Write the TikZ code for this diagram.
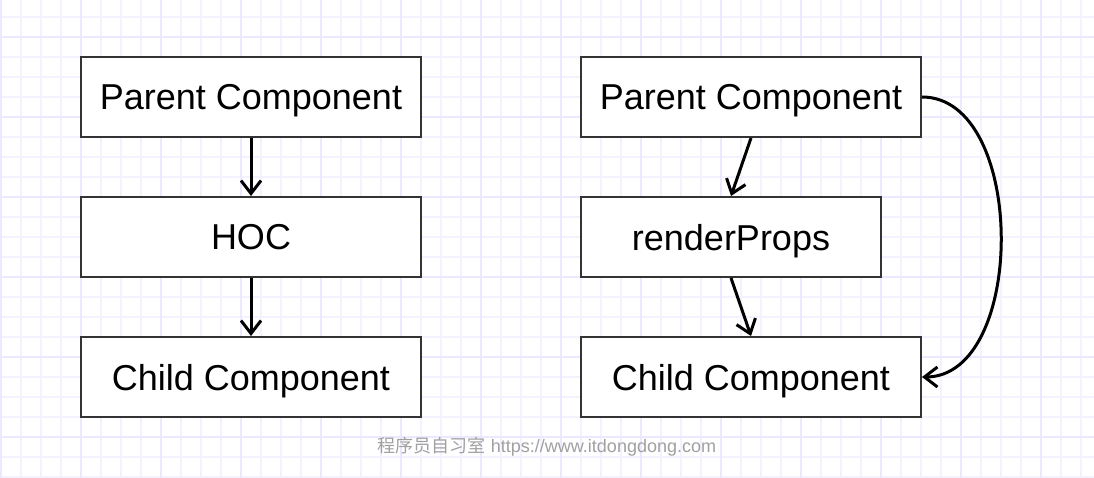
\documentclass[tikz,border=0pt]{standalone}
\usepackage{fontspec}
\setmainfont{Liberation Sans}
\newfontfamily\cjk{Noto Sans CJK SC}
\usetikzlibrary{arrows.meta}
\definecolor{gridminor}{RGB}{244,242,255}
\definecolor{gridmajor}{RGB}{235,232,255}
\definecolor{boxline}{RGB}{51,51,51}
\definecolor{marktext}{RGB}{160,160,160}
\tikzset{
  comp/.style={draw=boxline,line width=2pt,fill=white,minimum width=340pt,
    minimum height=80pt,inner sep=0pt,text depth=0pt,font=\fontsize{36}{40}\selectfont},
  arr/.style={-{Straight Barb[length=13pt,width=20pt]},line width=3pt,black}
}
\begin{document}
\begin{tikzpicture}[x=1pt,y=-1pt]
\useasboundingbox (0,0) rectangle (1094,478);
\fill[white] (0,0) rectangle (1094,478);
% grid
\foreach \gx in {1,21,...,1081} \draw[gridminor,line width=1.5pt](\gx,0)--(\gx,478);
\foreach \gy in {17,37,...,477} \draw[gridminor,line width=1.5pt](0,\gy)--(1094,\gy);
\foreach \gx in {1,81,...,1081} \draw[gridmajor,line width=1.5pt](\gx,0)--(\gx,478);
\foreach \gy in {37,117,...,437} \draw[gridmajor,line width=1.5pt](0,\gy)--(1094,\gy);
% HOC
\node[comp] (hocparent) at (251,97) {Parent Component};
\node[comp] (hoc) at (251,237) {HOC};
\node[comp] (hocchild) at (251,377) {Child Component};
\draw[arr](hocparent.south)--(hoc.north);
\draw[arr](hoc.south)--(hocchild.north);
% render props
\node[comp] (rpparent) at (751,97) {Parent Component};
\node[comp,minimum width=300pt] (rp) at (731,237) {renderProps};
\node[comp] (rpchild) at (751,377) {Child Component};
\draw[arr](rpparent.south)--(rp.north);
\draw[arr](rp.south)--(rpchild.north);
\draw[arr](rpparent.east) .. controls +(105,0) and +(105,0) .. (rpchild.east);
% watermark
\node[text=marktext,font=\fontsize{18}{20}\selectfont] (mark) at (547,447)
  {{\cjk 程序员自习室} https://www.itdongdong.com};
\end{tikzpicture}
\end{document}
